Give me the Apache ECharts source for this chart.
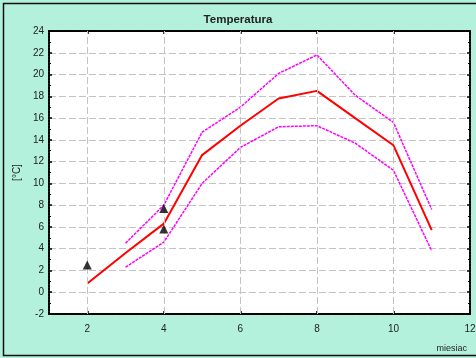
<!DOCTYPE html>
<html><head><meta charset="utf-8">
<script src="https://cdn.jsdelivr.net/npm/echarts@6/dist/echarts.min.js"></script>
<style>html,body{margin:0;padding:0;background:#b3f1dc}#c{width:476px;height:358px}</style>
</head><body><div id="c"></div>
<script>
const months = [2,3,4,5,6,7,8,9,10,11];
const meanTemp = [0.8,3.6,6.3,12.6,15.3,17.8,18.5,16.0,13.5,5.7];
const upperX = [3,4,5,6,7,8,9,10,11];
const upperTemp = [4.5,8.0,14.7,17.0,20.1,21.8,18.1,15.6,7.6];
const lowerTemp = [2.3,4.6,10.0,13.3,15.2,15.3,13.7,11.2,3.8];
const obsX = [2,4,4];
const obsTemp = [2.5,7.7,5.8];
const xTicks = [2,4,6,8,10,12];

const chart = echarts.init(document.getElementById('c'), null, {renderer:'canvas'});
const pair = (xs, ys) => xs.map((x,i)=>[x, ys[i]]);
const labelStyle = {color:'#222', fontSize:10, fontFamily:'Liberation Sans, Arial, sans-serif'};
const frameLine = {show:true, onZero:false, lineStyle:{color:'#000', width:2, type:[2,1]}};
const gridLineStyle = {color:'#c4c4c4', width:1, type:[7,3]};
chart.setOption({
  backgroundColor:'#b3f1dc',
  animation:false,
  title:[{text:'Temperatura', left:'center', top:9, textStyle:{fontSize:11.5, fontWeight:'bold', color:'#222', fontFamily:'Liberation Sans, Arial, sans-serif'}},
         {text:'miesiac', right:4, top:339, textStyle:{...labelStyle, fontSize:9, fontWeight:'normal'}}],
  graphic:[{type:'rect', shape:{x:3.5,y:3.5,width:480,height:352}, style:{fill:null, stroke:'#111', lineWidth:1.5}, silent:true}],
  grid:{left:49, right:6, top:31, bottom:44, backgroundColor:'#fff', show:true, borderWidth:0, containLabel:false, outerBoundsMode:'none'},
  xAxis:[{type:'value', min:1, max:12, position:'bottom',
    axisLine:frameLine,
    axisTick:{show:true, inside:true, length:3, customValues:xTicks, lineStyle:{color:'#000', width:1.5}},
    axisLabel:{...labelStyle, margin:10, customValues:xTicks, formatter:v=>String(v)},
    splitLine:{show:false}},
   {type:'value', min:1, max:12, position:'top',
    axisLine:frameLine,
    axisTick:{show:true, inside:true, length:3, customValues:xTicks, lineStyle:{color:'#000', width:1.5}},
    axisLabel:{show:false}, splitLine:{show:false}}],
  yAxis:[{type:'value', min:-2, max:24, interval:2, position:'left',
    axisLine:frameLine,
    axisTick:{show:true, inside:true, length:3, lineStyle:{color:'#000', width:1.5}},
    minorTick:{show:true, splitNumber:2, length:2, lineStyle:{color:'#000'}},
    axisLabel:{...labelStyle, margin:5},
    splitLine:{show:true, lineStyle:gridLineStyle},
    name:'[°C]', nameLocation:'middle', nameGap:22, nameRotate:90,
    nameTextStyle:{...labelStyle, fontSize:10}},
   {type:'value', min:-2, max:24, interval:2, position:'right',
    axisLine:frameLine,
    axisTick:{show:true, inside:true, length:3, lineStyle:{color:'#000', width:1.5}},
    minorTick:{show:true, splitNumber:2, length:2, lineStyle:{color:'#000'}},
    axisLabel:{show:false}, splitLine:{show:false}}],
  series:[
    {type:'line', data:[], z:1, silent:true,
     markLine:{silent:true, symbol:['none','none'], label:{show:false}, lineStyle:gridLineStyle,
       data:xTicks.filter(v=>v<12).map(v=>({xAxis:v}))}},
    {type:'line', data:pair(upperX, upperTemp), showSymbol:false, lineStyle:{color:'#ff00ff', width:1.5, type:[3,1]}, z:3},
    {type:'line', data:pair(upperX, lowerTemp), showSymbol:false, lineStyle:{color:'#ff00ff', width:1.5, type:[3,1]}, z:3},
    {type:'line', data:pair(months, meanTemp), showSymbol:false, lineStyle:{color:'#ff0000', width:2}, z:4},
    {type:'scatter', data:pair(obsX, obsTemp), symbol:'triangle', symbolSize:9, itemStyle:{color:'#000'}, z:5}
  ]
});
</script></body></html>
